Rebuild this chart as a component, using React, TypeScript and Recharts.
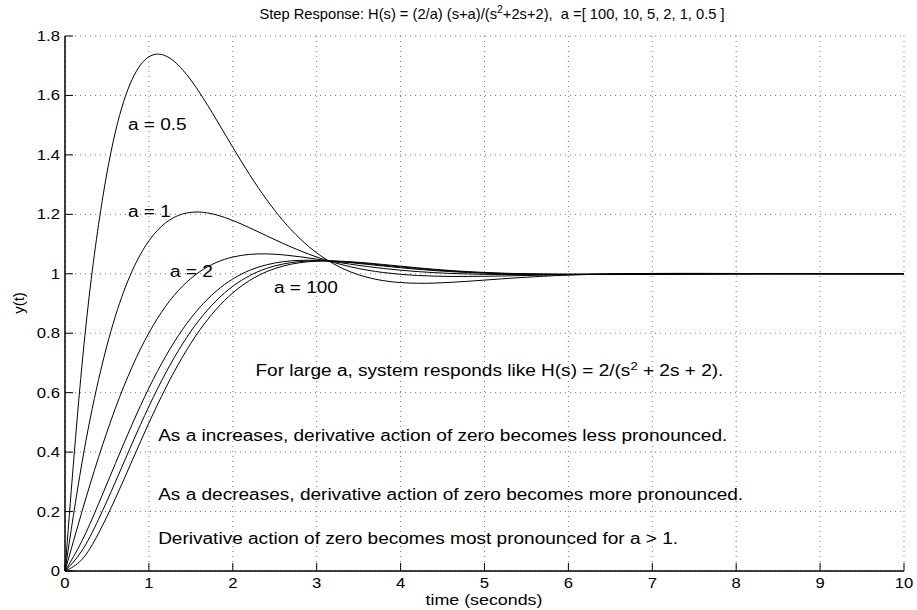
import { CartesianGrid, Line, LineChart, ReferenceDot, XAxis, YAxis } from "recharts";

// time samples (seconds)
const times = [
  0, 0.2, 0.4, 0.6, 0.8, 1, 1.2, 1.4, 1.6, 1.8, 2, 2.2, 2.4, 2.6, 2.8, 3, 3.2, 3.4, 3.6, 3.8, 4, 4.2, 4.4,
  4.6, 4.8, 5, 5.2, 5.4, 5.6, 5.8, 6, 6.5, 7, 7.5, 8, 8.5, 9, 9.5, 10,
];

// step responses, one array per value of a
const a100 = [
  0, 0.0382, 0.1268, 0.2434, 0.3711, 0.4979, 0.6158, 0.7199, 0.8081, 0.8798, 0.9357, 0.9774, 1.0068, 1.0261,
  1.0373, 1.0424, 1.043, 1.0406, 1.0364, 1.0311, 1.0256, 1.0202, 1.0152, 1.0109, 1.0073, 1.0044, 1.0022, 1.0006,
  0.9994, 0.9987, 0.9983, 0.9982, 0.9987, 0.9993, 0.9997, 1.0, 1.0001, 1.0001, 1.0001,
];
const a10 = [
  0, 0.0675, 0.1738, 0.2991, 0.4291, 0.5536, 0.6663, 0.7637, 0.8444, 0.9088, 0.9579, 0.9935, 1.0179, 1.033,
  1.041, 1.0437, 1.0426, 1.0391, 1.0342, 1.0286, 1.0231, 1.0178, 1.0131, 1.0091, 1.0058, 1.0033, 1.0013, 0.9999,
  0.999, 0.9984, 0.9982, 0.9983, 0.9988, 0.9994, 0.9998, 1.0, 1.0001, 1.0001, 1.0001,
];
const a5 = [
  0, 0.0999, 0.226, 0.3611, 0.4935, 0.6155, 0.7224, 0.8123, 0.8848, 0.941, 0.9825, 1.0115, 1.0301, 1.0407,
  1.0451, 1.0451, 1.0421, 1.0374, 1.0318, 1.0259, 1.0203, 1.0152, 1.0108, 1.0071, 1.0042, 1.002, 1.0003, 0.9992,
  0.9985, 0.9982, 0.998, 0.9983, 0.999, 0.9995, 0.9999, 1.0, 1.0001, 1.0001, 1.0001,
];
const a2 = [
  0, 0.1976, 0.3826, 0.547, 0.6869, 0.8012, 0.8909, 0.9581, 1.0059, 1.0376, 1.0563, 1.0652, 1.0669, 1.0636,
  1.0573, 1.0493, 1.0407, 1.0323, 1.0245, 1.0177, 1.012, 1.0074, 1.0038, 1.0011, 0.9993, 0.9981, 0.9974, 0.9971,
  0.9971, 0.9973, 0.9976, 0.9985, 0.9993, 0.9998, 1.0001, 1.0001, 1.0001, 1.0001, 1.0001,
];
const a1 = [
  0, 0.3602, 0.6436, 0.8569, 1.0093, 1.1108, 1.1716, 1.2011, 1.2077, 1.1985, 1.1794, 1.1548, 1.1282, 1.1019,
  1.0777, 1.0563, 1.0383, 1.0237, 1.0124, 1.004, 0.9981, 0.9943, 0.9921, 0.9911, 0.9911, 0.9916, 0.9925, 0.9936,
  0.9948, 0.9959, 0.9969, 0.9989, 0.9999, 1.0003, 1.0004, 1.0003, 1.0002, 1.0001, 1.0,
];
const a05 = [
  0, 0.6856, 1.1657, 1.4767, 1.6539, 1.7299, 1.733, 1.6871, 1.6113, 1.5205, 1.4255, 1.3339, 1.2507, 1.1785,
  1.1184, 1.0704, 1.0336, 1.0067, 0.9882, 0.9766, 0.9704, 0.9681, 0.9687, 0.9712, 0.9747, 0.9787, 0.9828, 0.9866,
  0.9901, 0.9931, 0.9955, 0.9995, 1.0011, 1.0014, 1.001, 1.0006, 1.0003, 1.0, 0.9999,
];

const seriesKeys = ["a100", "a10", "a5", "a2", "a1", "a05"];

const xTicks = [0, 1, 2, 3, 4, 5, 6, 7, 8, 9, 10];
const yTicks = [0, 0.2, 0.4, 0.6, 0.8, 1, 1.2, 1.4, 1.6, 1.8];

// text placed on the plot, in data units (left edge, baseline)
const notes = [
  { x: 0.75, y: 1.485, text: "a = 0.5" },
  { x: 0.75, y: 1.19, text: "a = 1" },
  { x: 1.25, y: 0.99, text: "a = 2" },
  { x: 2.49, y: 0.935, text: "a = 100" },
  { x: 2.27, y: 0.655, text: "For large a, system responds like H(s) = 2/(s", sup: "2", rest: " + 2s + 2)." },
  { x: 1.11, y: 0.437, text: "As a increases, derivative action of zero becomes less pronounced." },
  { x: 1.11, y: 0.24, text: "As a decreases, derivative action of zero becomes more pronounced." },
  { x: 1.11, y: 0.091, text: "Derivative action of zero becomes most pronounced for a > 1." },
];

const data = times.map((t, i) => ({
  t,
  a100: a100[i],
  a10: a10[i],
  a5: a5[i],
  a2: a2[i],
  a1: a1[i],
  a05: a05[i],
}));

const W = 917;
const H = 610;
const FONT = "'Liberation Sans', Arial, Helvetica, sans-serif";
const SX = 1.19; // the source render is stretched horizontally
const TICK = 8;

function Stretch({ x, y, anchor = "start", size = 16, sx = SX, children }: any) {
  return (
    <text
      transform={`translate(${x} ${y}) scale(${sx} 1)`}
      textAnchor={anchor}
      fontSize={size}
      fontFamily={FONT}
      fill="#000"
      style={{ whiteSpace: "pre" }}
    >
      {children}
    </text>
  );
}

function BottomTick({ x, y, payload }: any) {
  return (
    <g>
      <line x1={x} y1={y} x2={x} y2={y - TICK} stroke="#000" />
      <Stretch x={x} y={y + 17} anchor="middle" size={14}>
        {String(payload.value)}
      </Stretch>
    </g>
  );
}

function TopTick({ x, y }: any) {
  return <line x1={x} y1={y} x2={x} y2={y + TICK} stroke="#000" />;
}

function LeftTick({ x, y, payload }: any) {
  return (
    <g>
      <line x1={x} y1={y} x2={x + TICK} y2={y} stroke="#000" />
      <Stretch x={x - 5} y={y + 5} anchor="end" size={14}>
        {String(payload.value)}
      </Stretch>
    </g>
  );
}

function RightTick({ x, y }: any) {
  return <line x1={x} y1={y} x2={x - TICK} y2={y} stroke="#000" />;
}

function NoteLabel({ viewBox, note }: any) {
  return (
    <Stretch x={viewBox.x} y={viewBox.y}>
      {note.text}
      {note.sup && (
        <>
          <tspan dy={-6} fontSize={11}>
            {note.sup}
          </tspan>
          <tspan dy={6}>{note.rest}</tspan>
        </>
      )}
    </Stretch>
  );
}

export default function App() {
  return (
    <div style={{ position: "absolute", left: 0, top: 0, width: W, height: H, background: "#fff" }}>
      <LineChart width={W} height={H} data={data} margin={{ top: 36, right: 13, bottom: 0, left: 0 }}>
        <CartesianGrid stroke="#777" strokeDasharray="1 4" />
        <XAxis
          dataKey="t"
          type="number"
          domain={[0, 10]}
          ticks={xTicks}
          interval={0}
          height={39}
          tickSize={0}
          tickMargin={0}
          tickLine={false}
          tick={<BottomTick />}
          axisLine={{ stroke: "#000", strokeWidth: 1.5 }}
        />
        <XAxis
          xAxisId="top"
          orientation="top"
          type="number"
          domain={[0, 10]}
          allowDataOverflow
          ticks={xTicks}
          interval={0}
          height={0}
          tickSize={0}
          tickMargin={0}
          tickLine={false}
          tick={<TopTick />}
          axisLine={{ stroke: "#000", strokeWidth: 1.5 }}
        />
        <YAxis
          type="number"
          domain={[0, 1.8]}
          ticks={yTicks}
          interval={0}
          width={65}
          tickSize={0}
          tickMargin={0}
          tickLine={false}
          tick={<LeftTick />}
          axisLine={{ stroke: "#000", strokeWidth: 1.5 }}
        />
        <YAxis
          yAxisId="right"
          orientation="right"
          type="number"
          domain={[0, 1.8]}
          allowDataOverflow
          ticks={yTicks}
          interval={0}
          width={0}
          tickSize={0}
          tickMargin={0}
          tickLine={false}
          tick={<RightTick />}
          axisLine={{ stroke: "#000", strokeWidth: 1 }}
        />
        {seriesKeys.map((k) => (
          <Line
            key={k}
            dataKey={k}
            type="natural"
            stroke="#000"
            strokeWidth={1}
            dot={false}
            activeDot={false}
            isAnimationActive={false}
          />
        ))}
        {notes.map((n, i) => (
          <ReferenceDot
            key={i}
            x={n.x}
            y={n.y}
            r={0}
            fill="none"
            stroke="none"
            ifOverflow="visible"
            label={(p: any) => <NoteLabel viewBox={p.viewBox} note={n} />}
          />
        ))}
      </LineChart>
      <svg width={W} height={H} style={{ position: "absolute", left: 0, top: 0, pointerEvents: "none" }}>
        <Stretch x={492} y={19} anchor="middle" size={14} sx={1.05}>
          Step Response: H(s) = (2/a) (s+a)/(s
          <tspan dy={-6} fontSize={10}>
            2
          </tspan>
          <tspan dy={6}>+2s+2),  a =[ 100, 10, 5, 2, 1, 0.5 ]</tspan>
        </Stretch>
        <Stretch x={484} y={605} anchor="middle" size={15}>
          time (seconds)
        </Stretch>
        <g transform="translate(24 303) rotate(-90)">
          <text textAnchor="middle" fontSize={15} fontFamily={FONT} fill="#000">
            y(t)
          </text>
        </g>
      </svg>
    </div>
  );
}
